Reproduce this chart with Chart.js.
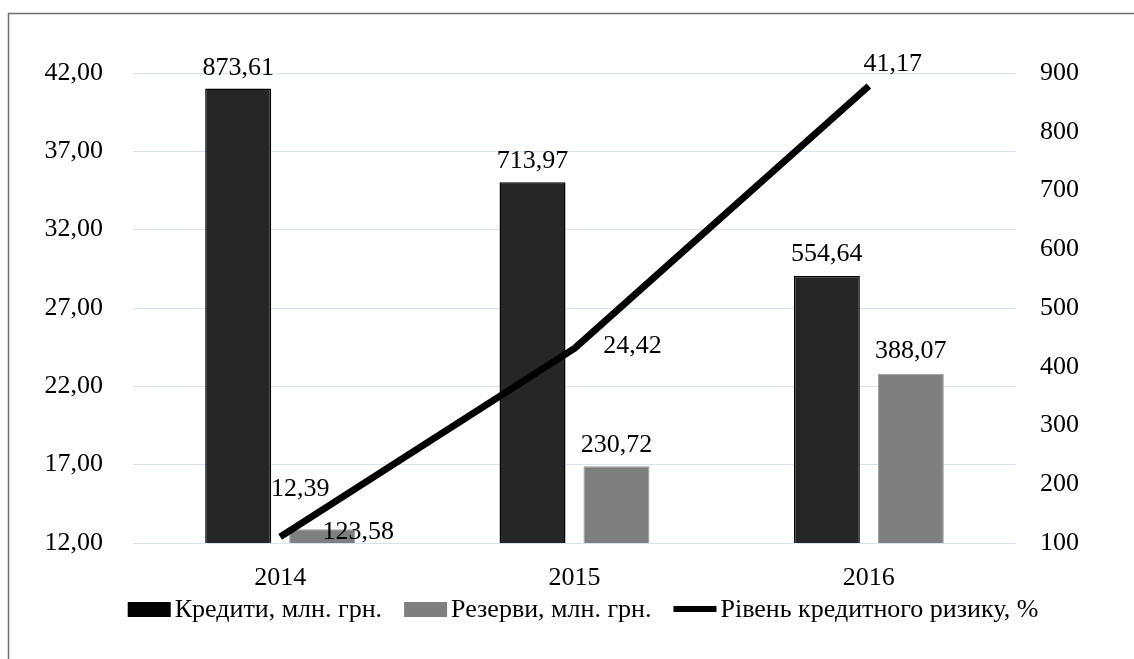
<!DOCTYPE html>
<html lang="uk">
<head>
  <meta charset="UTF-8" />
  <title>Кредити, резерви та рівень кредитного ризику</title>
  <script src="https://cdn.jsdelivr.net/npm/chart.js"></script>
  <style>
    html, body { margin: 0; padding: 0; background: #fff; }
    canvas { display: block; }
  </style>
</head>
<body>
  <canvas id="riskChart" width="1134" height="659"></canvas>

  <script>
    // Дані з діаграми
    const years = ["2014", "2015", "2016"];
    const credits = [873.61, 713.97, 554.64];   // Кредити, млн. грн.
    const reserves = [123.58, 230.72, 388.07];  // Резерви, млн. грн.
    const riskLevel = [12.39, 24.42, 41.17];    // Рівень кредитного ризику, %

    const leftTickLabels = ["12,00", "17,00", "22,00", "27,00", "32,00", "37,00", "42,00"];
    const rightTickLabels = ["100", "200", "300", "400", "500", "600", "700", "800", "900"];

    const FONT = "'Liberation Serif', 'Times New Roman', serif";
    const FONT_SIZE = 26;

    Chart.defaults.font.family = FONT;
    Chart.defaults.font.size = FONT_SIZE;
    Chart.defaults.color = "#000";

    const fmt = v => v.toFixed(2).replace(".", ",");

    // зсув підписів відносно точки / верху стовпця [dx, dy]
    const labelShift = [
      [[0, -14], [0, -14], [0, -15]],
      [[36, 10], [0, -14], [0, -16]],
      [[20, -41], [58, 5], [24, -15]]
    ];

    const frame = {
      id: "frame",
      beforeDraw(chart) {
        const c = chart.ctx;
        c.save();
        c.strokeStyle = "#6f6f6f";
        c.lineWidth = 1.5;
        c.beginPath();
        c.moveTo(8.5, chart.height);
        c.lineTo(8.5, 13.5);
        c.lineTo(chart.width, 13.5);
        c.stroke();
        c.restore();
      }
    };

    const valueLabels = {
      id: "valueLabels",
      afterDatasetsDraw(chart) {
        const c = chart.ctx;
        c.save();
        c.font = FONT_SIZE + "px " + FONT;
        c.fillStyle = "#000";
        c.textAlign = "center";
        c.textBaseline = "alphabetic";
        chart.data.datasets.forEach((ds, i) => {
          chart.getDatasetMeta(i).data.forEach((el, j) => {
            const [dx, dy] = labelShift[i][j];
            c.fillText(fmt(ds.data[j]), el.x + dx, el.y + dy);
          });
        });
        c.restore();
      }
    };

    // Легенда внизу
    const bottomLegend = {
      id: "bottomLegend",
      afterDraw(chart) {
        const c = chart.ctx;
        const cy = 609;
        const markW = 43, gap = 4, itemGap = 22;
        c.save();
        c.font = FONT_SIZE + "px " + FONT;
        c.textBaseline = "middle";
        const items = chart.data.datasets.map(ds => ({
          text: ds.label, color: ds.legendColor, line: ds.type === "line"
        }));
        let total = 0;
        items.forEach(it => { it.w = c.measureText(it.text).width; total += markW + gap + it.w; });
        total += itemGap * (items.length - 1);
        let x = 583 - total / 2;
        items.forEach(it => {
          if (it.line) {
            c.strokeStyle = it.color;
            c.lineWidth = 6;
            c.beginPath();
            c.moveTo(x, cy);
            c.lineTo(x + markW, cy);
            c.stroke();
          } else {
            c.fillStyle = it.color;
            c.fillRect(x, cy - 7, markW, 15);
          }
          c.fillStyle = "#000";
          c.fillText(it.text, x + markW + gap, cy + 1);
          x += markW + gap + it.w + itemGap;
        });
        c.restore();
      }
    };

    new Chart(document.getElementById("riskChart"), {
      type: "bar",
      data: {
        labels: years,
        datasets: [
          {
            label: "Кредити, млн. грн.",
            data: credits,
            yAxisID: "y1",
            backgroundColor: "#262626",
            borderColor: "#000",
            borderWidth: 1.5,
            legendColor: "#000",
            categoryPercentage: 0.5705,
            barPercentage: 0.786,
            order: 1
          },
          {
            label: "Резерви, млн. грн.",
            data: reserves,
            yAxisID: "y1",
            backgroundColor: "#7f7f7f",
            borderColor: "#9a9a9a",
            borderWidth: 1,
            legendColor: "#7f7f7f",
            categoryPercentage: 0.5705,
            barPercentage: 0.786,
            order: 1
          },
          {
            type: "line",
            label: "Рівень кредитного ризику, %",
            data: riskLevel,
            yAxisID: "y",
            borderColor: "#000",
            borderWidth: 7,
            borderCapStyle: "butt",
            borderJoinStyle: "round",
            pointRadius: 0,
            tension: 0,
            fill: false,
            legendColor: "#000",
            order: 0
          }
        ]
      },
      options: {
        responsive: false,
        devicePixelRatio: 1,
        animation: false,
        layout: { padding: { top: 73, left: 0, right: 0, bottom: 0 } },
        plugins: {
          legend: { display: false },
          tooltip: { enabled: false }
        },
        scales: {
          x: {
            grid: { display: false },
            border: { display: false },
            ticks: { padding: 12, maxRotation: 0 },
            afterFit(scale) { scale.height = 659 - 543; }
          },
          y: {
            position: "left",
            min: 12,
            max: 42,
            ticks: {
              stepSize: 5,
              padding: 30,
              callback: (v, i) => leftTickLabels[i]
            },
            grid: { color: "#d9e2f3", lineWidth: 1, drawTicks: false },
            border: { display: false },
            afterFit(scale) { scale.width = 133; }
          },
          y1: {
            position: "right",
            min: 100,
            max: 900,
            ticks: {
              stepSize: 100,
              padding: 24,
              callback: (v, i) => rightTickLabels[i]
            },
            grid: { display: false, drawTicks: false },
            border: { display: false },
            afterFit(scale) { scale.width = 1134 - 1016; }
          }
        }
      },
      plugins: [frame, valueLabels, bottomLegend]
    });
  </script>
</body>
</html>
